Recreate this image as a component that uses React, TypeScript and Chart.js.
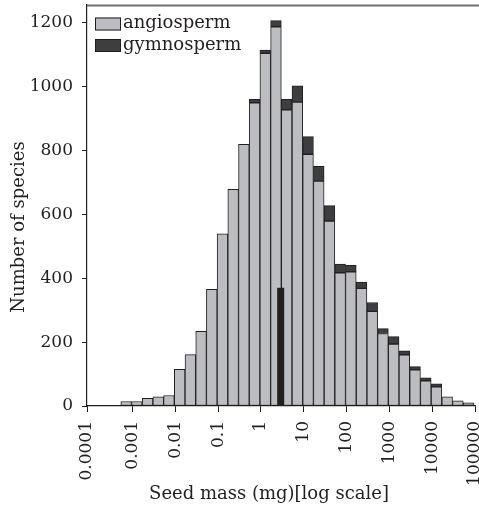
import { useEffect, useRef } from 'react';
import { Chart, registerables } from 'chart.js';

Chart.register(...registerables);

// log10 of seed mass (mg) at the centre of each quarter-decade bin
const binCenters = [
  -3.15, -2.9, -2.65, -2.4, -2.15, -1.9, -1.65, -1.4, -1.15, -0.9, -0.65,
  -0.4, -0.15, 0.1, 0.35, 0.6, 0.85, 1.1, 1.35, 1.6, 1.85, 2.1,
  2.35, 2.6, 2.85, 3.1, 3.35, 3.6, 3.85, 4.1, 4.35, 4.6, 4.85,
];

// number of species in each bin
const angiosperm = [
  14, 14, 24, 29, 33, 115, 161, 234, 365, 539, 678,
  819, 949, 1104, 1187, 927, 951, 788, 704, 579, 417, 420,
  368, 296, 227, 194, 160, 113, 79, 60, 29, 16, 10,
];
const gymnosperm = [
  0, 0, 0, 0, 0, 0, 0, 0, 0, 0, 0,
  0, 11, 10, 19, 33, 51, 55, 46, 48, 27, 20,
  20, 28, 15, 23, 13, 10, 9, 9, 0, 0, 0,
];

// marker bar: median seed mass (log10 mg) and its height
const medianLog = 0.46;
const medianHeight = 370;

// axis ticks
const xTickLogs = [-4.065, -3, -2, -1, 0, 1, 2, 3, 4, 5];
const xTickLabels = ['0.0001', '0.001', '0.01', '0.1', '1', '10', '100', '1000', '10000', '100000'];
const yTicks = [0, 200, 400, 600, 800, 1000, 1200];

const X_MIN = -4.065;
const X_MAX = 5;
const Y_MAX = 1255;

const INK = '#231f20';
const LIGHT = '#bcbdc0';
const DARK = '#3e3e40';
const FONT = '"DejaVu Serif", serif';

const decorations = {
  id: 'decorations',
  afterDraw(chart: any) {
    const { ctx, chartArea } = chart;
    ctx.save();

    // top frame line
    ctx.strokeStyle = '#707072';
    ctx.lineWidth = 1.8;
    ctx.beginPath();
    ctx.moveTo(chartArea.left, chartArea.top + 0.5);
    ctx.lineTo(chart.width, chartArea.top + 0.5);
    ctx.stroke();

    // legend
    const entries = chart.data.datasets.filter((d: any) => d.inLegend);
    entries.forEach((d: any, i: number) => {
      const bx = 95;
      const by = 17.5 + i * 21.5;
      ctx.fillStyle = d.backgroundColor;
      ctx.fillRect(bx, by, 26, 13);
      ctx.strokeStyle = INK;
      ctx.lineWidth = 1;
      ctx.strokeRect(bx + 0.5, by + 0.5, 25, 12);
      ctx.fillStyle = INK;
      ctx.font = `18px ${FONT}`;
      ctx.textAlign = 'left';
      ctx.textBaseline = 'middle';
      ctx.fillText(d.label, 123, by + 6);
    });

    // axis titles
    ctx.fillStyle = INK;
    ctx.font = `18px ${FONT}`;
    ctx.textAlign = 'center';
    ctx.textBaseline = 'middle';
    ctx.fillText('Seed mass (mg)[log scale]', 269, 494);

    ctx.translate(19, 227);
    ctx.rotate(-Math.PI / 2);
    ctx.fillText('Number of species', 0, 0);

    ctx.restore();
  },
};

export default function App() {
  const canvasRef = useRef<HTMLCanvasElement | null>(null);

  useEffect(() => {
    const canvas = canvasRef.current;
    if (!canvas) return;

    const barBase = {
      borderColor: INK,
      borderWidth: 1,
      borderSkipped: false,
      grouped: false,
      categoryPercentage: 1,
      barPercentage: 1,
      xAxisID: 'x',
      stack: 'seeds',
      order: 1,
      inLegend: true,
    };

    const chart = new Chart(canvas, {
      type: 'bar',
      data: {
        datasets: [
          {
            ...barBase,
            label: 'angiosperm',
            backgroundColor: LIGHT,
            data: binCenters.map((x, i) => ({ x, y: angiosperm[i] })),
          },
          {
            ...barBase,
            label: 'gymnosperm',
            backgroundColor: DARK,
            data: binCenters.map((x, i) => ({ x, y: gymnosperm[i] })),
          },
          {
            label: 'median',
            backgroundColor: INK,
            borderWidth: 0,
            grouped: false,
            maxBarThickness: 7,
            xAxisID: 'x2',
            stack: 'median',
            order: 0,
            inLegend: false,
            data: [{ x: medianLog, y: medianHeight }],
          },
        ] as any,
      },
      options: {
        responsive: false,
        animation: false,
        devicePixelRatio: 1,
        layout: { padding: { top: 5, right: 4, left: 0, bottom: 0 } },
        plugins: {
          legend: { display: false },
          tooltip: { enabled: false },
        },
        scales: {
          x: {
            type: 'linear',
            min: X_MIN,
            max: X_MAX,
            offset: false,
            grid: {
              offset: false,
              drawOnChartArea: false,
              drawTicks: true,
              tickLength: 6,
              color: INK,
              lineWidth: 1,
            },
            border: { color: INK, width: 1.2 },
            ticks: {
              color: INK,
              font: { family: FONT, size: 17 },
              minRotation: 90,
              maxRotation: 90,
              autoSkip: false,
              padding: 9,
              callback: (_v: any, i: number) => xTickLabels[i],
            },
            afterBuildTicks: (s: any) => {
              s.ticks = xTickLogs.map((value) => ({ value }));
            },
            afterFit: (s: any) => {
              s.height = 102;
              s.paddingLeft = 0;
              s.paddingRight = 0;
            },
          },
          x2: {
            type: 'linear',
            min: X_MIN,
            max: X_MAX,
            offset: false,
            display: false,
          },
          y: {
            min: 0,
            max: Y_MAX,
            stacked: true,
            grid: {
              drawOnChartArea: false,
              drawTicks: true,
              tickLength: 5,
              color: INK,
              lineWidth: 1,
            },
            border: { color: INK, width: 1.2 },
            ticks: {
              color: INK,
              font: { family: FONT, size: 17 },
              padding: 9,
              callback: (v: any) => String(v),
            },
            afterBuildTicks: (s: any) => {
              s.ticks = yTicks.map((value) => ({ value }));
            },
            afterFit: (s: any) => {
              s.width = 87;
              s.paddingTop = 0;
              s.paddingBottom = 0;
            },
          },
        },
      } as any,
      plugins: [decorations],
    });

    return () => chart.destroy();
  }, []);

  return (
    <div style={{ position: 'absolute', left: 0, top: 0, width: 479, height: 508, background: '#fff' }}>
      <canvas ref={canvasRef} width={479} height={508} />
    </div>
  );
}
